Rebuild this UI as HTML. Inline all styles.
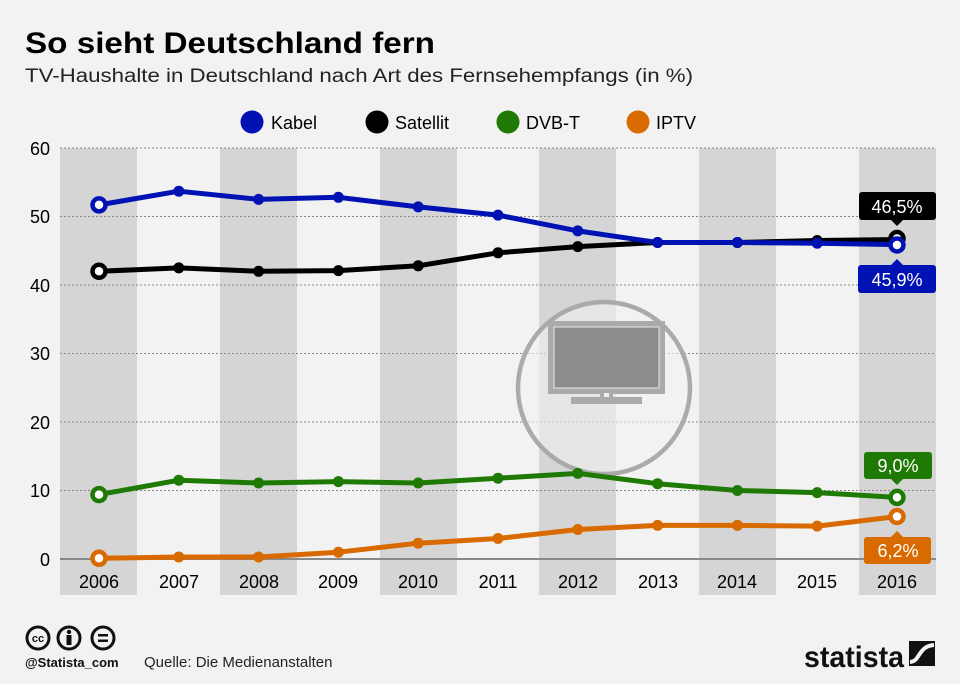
<!DOCTYPE html>
<html><head><meta charset="utf-8"><style>
html,body{margin:0;padding:0;background:#f2f2f2;}
svg{display:block;font-family:"Liberation Sans",sans-serif;}
</style></head><body>
<svg width="960" height="684" viewBox="0 0 960 684" xmlns="http://www.w3.org/2000/svg">
<rect width="960" height="684" fill="#f2f2f2"/>
<text x="25" y="53" font-size="30" font-weight="bold" fill="#000" textLength="410" lengthAdjust="spacingAndGlyphs">So sieht Deutschland fern</text>
<text x="25" y="82" font-size="19" fill="#222" textLength="668" lengthAdjust="spacingAndGlyphs">TV-Haushalte in Deutschland nach Art des Fernsehempfangs (in %)</text>
<g font-size="18" fill="#000">
<circle cx="252" cy="122" r="11.5" fill="#0012b3"/><text x="271" y="129">Kabel</text>
<circle cx="377" cy="122" r="11.5" fill="#000"/><text x="395" y="129">Satellit</text>
<circle cx="508" cy="122" r="11.5" fill="#1f7a05"/><text x="526" y="129">DVB-T</text>
<circle cx="638" cy="122" r="11.5" fill="#d96a00"/><text x="656" y="129">IPTV</text>
</g>
<g fill="#d5d5d5">
<rect x="60" y="148" width="77" height="447"/>
<rect x="220" y="148" width="77" height="447"/>
<rect x="380" y="148" width="77" height="447"/>
<rect x="539" y="148" width="77" height="447"/>
<rect x="699" y="148" width="77" height="447"/>
<rect x="859" y="148" width="77" height="447"/>
</g>
<g stroke="#888" stroke-width="1" stroke-dasharray="2,2">
<line x1="60" y1="148" x2="936" y2="148"/>
<line x1="60" y1="216.5" x2="936" y2="216.5"/>
<line x1="60" y1="285" x2="936" y2="285"/>
<line x1="60" y1="353.5" x2="936" y2="353.5"/>
<line x1="60" y1="422" x2="936" y2="422"/>
<line x1="60" y1="490.5" x2="936" y2="490.5"/>
</g>
<line x1="60" y1="559" x2="936" y2="559" stroke="#888" stroke-width="2"/>
<g font-size="18" fill="#000" text-anchor="end">
<text x="50" y="155">60</text><text x="50" y="223">50</text><text x="50" y="292">40</text>
<text x="50" y="360">30</text><text x="50" y="429">20</text><text x="50" y="497">10</text><text x="50" y="566">0</text>
</g>
<g font-size="18" fill="#000" text-anchor="middle">
<text x="99" y="588">2006</text><text x="179" y="588">2007</text><text x="259" y="588">2008</text>
<text x="338" y="588">2009</text><text x="418" y="588">2010</text><text x="498" y="588">2011</text>
<text x="578" y="588">2012</text><text x="658" y="588">2013</text><text x="737" y="588">2014</text>
<text x="817" y="588">2015</text><text x="897" y="588">2016</text>
</g>
<!-- TV icon -->
<circle cx="604" cy="388" r="86" fill="#f2f2f2" fill-opacity="0.6" stroke="#aaa" stroke-width="4.5"/>
<rect x="548" y="321" width="117" height="73" fill="#aaa"/>
<rect x="554" y="327" width="105" height="61" fill="#8c8c8c" stroke="#e8e8e8" stroke-width="1"/>
<rect x="600" y="393" width="13" height="5" fill="#aaa"/>
<rect x="604" y="393" width="5" height="4" fill="#eee"/>
<rect x="571" y="397" width="71" height="7" fill="#aaa"/>
<!-- Satellit -->
<g fill="none" stroke-linejoin="round" stroke-width="5">
<polyline stroke="#000" points="99,271.3 178.8,267.9 258.6,271.3 338.4,270.6 418.2,265.8 498,252.8 577.8,246.6 657.6,242.5 737.4,242.5 817.2,240.5 897,239.5"/>
<polyline stroke="#0012b3" points="99,204.9 178.8,191.2 258.6,199.4 338.4,197.3 418.2,206.9 498,215.1 577.8,230.9 657.6,242.5 737.4,242.5 817.2,243.2 897,244.6"/>
<polyline stroke="#1f7a05" points="99,494.6 178.8,480.2 258.6,483 338.4,481.6 418.2,483 498,478.2 577.8,473.4 657.6,483.7 737.4,490.5 817.2,492.6 897,497.4"/>
<polyline stroke="#d96a00" points="99,558.3 178.8,557 258.6,557 338.4,552.2 418.2,543.2 498,538.5 577.8,529.5 657.6,525.4 737.4,525.4 817.2,526.1 897,516.5"/>
</g>
<g fill="#000"><circle cx="178.8" cy="267.9" r="5.5"/><circle cx="258.6" cy="271.3" r="5.5"/><circle cx="338.4" cy="270.6" r="5.5"/><circle cx="418.2" cy="265.8" r="5.5"/><circle cx="498" cy="252.8" r="5.5"/><circle cx="577.8" cy="246.6" r="5.5"/><circle cx="657.6" cy="242.5" r="5.5"/><circle cx="737.4" cy="242.5" r="5.5"/><circle cx="817.2" cy="240.5" r="5.5"/></g>
<g fill="#0012b3"><circle cx="178.8" cy="191.2" r="5.5"/><circle cx="258.6" cy="199.4" r="5.5"/><circle cx="338.4" cy="197.3" r="5.5"/><circle cx="418.2" cy="206.9" r="5.5"/><circle cx="498" cy="215.1" r="5.5"/><circle cx="577.8" cy="230.9" r="5.5"/><circle cx="657.6" cy="242.5" r="5.5"/><circle cx="737.4" cy="242.5" r="5.5"/><circle cx="817.2" cy="243.2" r="5.5"/></g>
<g fill="#1f7a05"><circle cx="178.8" cy="480.2" r="5.5"/><circle cx="258.6" cy="483" r="5.5"/><circle cx="338.4" cy="481.6" r="5.5"/><circle cx="418.2" cy="483" r="5.5"/><circle cx="498" cy="478.2" r="5.5"/><circle cx="577.8" cy="473.4" r="5.5"/><circle cx="657.6" cy="483.7" r="5.5"/><circle cx="737.4" cy="490.5" r="5.5"/><circle cx="817.2" cy="492.6" r="5.5"/></g>
<g fill="#d96a00"><circle cx="178.8" cy="557" r="5.5"/><circle cx="258.6" cy="557" r="5.5"/><circle cx="338.4" cy="552.2" r="5.5"/><circle cx="418.2" cy="543.2" r="5.5"/><circle cx="498" cy="538.5" r="5.5"/><circle cx="577.8" cy="529.5" r="5.5"/><circle cx="657.6" cy="525.4" r="5.5"/><circle cx="737.4" cy="525.4" r="5.5"/><circle cx="817.2" cy="526.1" r="5.5"/></g>
<g fill="#fff" stroke-width="4.5">
<circle cx="99" cy="271.3" r="6.5" stroke="#000"/><circle cx="897" cy="238.5" r="6.5" stroke="#000"/>
<circle cx="99" cy="204.9" r="6.5" stroke="#0012b3"/><circle cx="897" cy="245" r="6.5" stroke="#0012b3"/>
<circle cx="99" cy="494.6" r="6.5" stroke="#1f7a05"/><circle cx="897" cy="497.4" r="6.5" stroke="#1f7a05"/>
<circle cx="99" cy="558.3" r="6.5" stroke="#d96a00"/><circle cx="897" cy="516.5" r="6.5" stroke="#d96a00"/>
</g>
<!-- value labels -->
<g font-size="18" fill="#fff" text-anchor="middle">
<rect x="859" y="192" width="77" height="28" rx="3" fill="#000"/><path d="M891,220 L897,226 L903,220Z" fill="#000"/>
<text x="897" y="213">46,5%</text>
<rect x="858" y="265" width="78" height="28" rx="3" fill="#0012b3"/><path d="M891,265 L897,259 L903,265Z" fill="#0012b3"/>
<text x="897" y="286">45,9%</text>
<rect x="864" y="452" width="68" height="27" rx="3" fill="#1f7a05"/><path d="M891,479 L897,485 L903,479Z" fill="#1f7a05"/>
<text x="898" y="472">9,0%</text>
<rect x="864" y="537" width="67" height="27" rx="3" fill="#d96a00"/><path d="M891,537 L897,531 L903,537Z" fill="#d96a00"/>
<text x="898" y="557">6,2%</text>
</g>
<!-- footer -->
<g fill="none" stroke="#111" stroke-width="3">
<circle cx="38" cy="638" r="11"/><circle cx="69" cy="638" r="11"/><circle cx="103" cy="638" r="11"/>
</g>
<text x="38" y="642" font-size="11" font-weight="bold" text-anchor="middle" fill="#111">cc</text>
<circle cx="69" cy="632" r="2.2" fill="#111"/><rect x="66.5" y="635" width="5" height="10" fill="#111"/>
<rect x="98" y="634" width="10" height="2.5" fill="#111"/><rect x="98" y="639.5" width="10" height="2.5" fill="#111"/>
<text x="25" y="667" font-size="13" font-weight="bold" fill="#111">@Statista_com</text>
<text x="144" y="667" font-size="15" fill="#222">Quelle: Die Medienanstalten</text>
<text x="804" y="667" font-size="30" font-weight="bold" fill="#111" textLength="100" lengthAdjust="spacingAndGlyphs">statista</text>
<rect x="909" y="641" width="26" height="25" fill="#111"/>
<path d="M910,662 C920,662 918,646 934,645" stroke="#f2f2f2" stroke-width="4" fill="none"/>
</svg>
</body></html>
